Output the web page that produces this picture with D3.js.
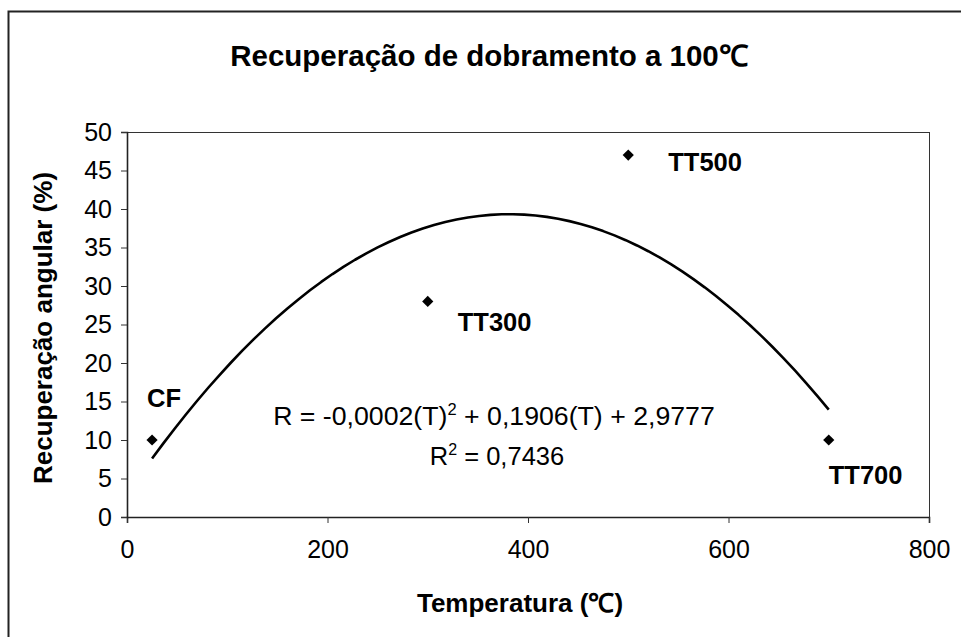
<!DOCTYPE html>
<html>
<head>
<meta charset="utf-8">
<script src="https://cdn.jsdelivr.net/npm/d3@7"></script>
<style>
  html, body { margin: 0; padding: 0; background: #fff; }
  svg { display: block; font-family: "Liberation Sans", Arial, sans-serif; }
</style>
</head>
<body>
<svg id="chart" width="961" height="637"></svg>
<script>
// Samples: treatment label, temperature (°C), angular recovery (%)
const samples = ["CF", "TT300", "TT500", "TT700"];
const temperatures = [25, 300, 500, 700];
const recovery = [10, 28, 47, 10];

const xTicks = [0, 200, 400, 600, 800];
const yTicks = [0, 5, 10, 15, 20, 25, 30, 35, 40, 45, 50];

const titleText = "Recuperação de dobramento a 100\u2103";
const xTitle = "Temperatura (\u2103)";
const yTitle = "Recuperação angular (%)";
const equationText = "R = -0,0002(T)";
const equationRest = " + 0,1906(T) + 2,9777";
const r2Value = "0,7436";

const svg = d3.select("#chart");
const plot = { left: 127, right: 929, top: 132, bottom: 517 };

const x = d3.scaleLinear().domain([0, 800]).range([plot.left, plot.right]);
const y = d3.scaleLinear().domain([0, 50]).range([plot.bottom, plot.top]);

// Outer chart frame
svg.append("rect")
  .attr("x", 8.5).attr("y", 11.5)
  .attr("width", 1200).attr("height", 1200)
  .attr("fill", "none").attr("stroke", "#222").attr("stroke-width", 2);

// Title
svg.append("text")
  .attr("x", 489).attr("y", 66)
  .attr("text-anchor", "middle")
  .attr("font-size", 29.5).attr("font-weight", "bold")
  .text(titleText);

// Plot area border (top and right)
svg.append("rect")
  .attr("x", plot.left + 0.5).attr("y", plot.top + 0.5)
  .attr("width", plot.right - plot.left).attr("height", plot.bottom - plot.top)
  .attr("fill", "none").attr("stroke", "#333").attr("stroke-width", 1);

// Axes
const xAxis = svg.append("g")
  .attr("transform", `translate(0,${plot.bottom})`)
  .call(d3.axisBottom(x).tickValues(xTicks).tickSize(6).tickPadding(17).tickFormat(d3.format("d")));
const yAxis = svg.append("g")
  .attr("transform", `translate(${plot.left},0)`)
  .call(d3.axisLeft(y).tickValues(yTicks).tickSize(6).tickPadding(9).tickFormat(d3.format("d")));

[xAxis, yAxis].forEach(g => {
  g.attr("font-size", 25).attr("font-family", "'Liberation Sans', Arial, sans-serif");
  g.select(".domain").attr("stroke", "#222").attr("stroke-width", 1.6);
  g.selectAll(".tick line").attr("stroke", "#333");
  g.selectAll(".tick text").attr("fill", "#000");
});

// Axis titles
svg.append("text")
  .attr("x", 520).attr("y", 612)
  .attr("text-anchor", "middle")
  .attr("font-size", 26).attr("font-weight", "bold")
  .text(xTitle);
svg.append("text")
  .attr("transform", "translate(52,328) rotate(-90)")
  .attr("text-anchor", "middle")
  .attr("font-size", 26).attr("font-weight", "bold")
  .text(yTitle);

// Second-order least-squares trendline through the samples
function quadFit(xs, ys) {
  const s = k => d3.sum(xs, v => Math.pow(v, k));
  const sy = k => d3.sum(xs, (v, i) => Math.pow(v, k) * ys[i]);
  const A = [[s(0), s(1), s(2)], [s(1), s(2), s(3)], [s(2), s(3), s(4)]];
  const b = [sy(0), sy(1), sy(2)];
  // Gaussian elimination
  for (let i = 0; i < 3; i++) {
    for (let j = i + 1; j < 3; j++) {
      const f = A[j][i] / A[i][i];
      for (let k = i; k < 3; k++) A[j][k] -= f * A[i][k];
      b[j] -= f * b[i];
    }
  }
  const c = [0, 0, 0];
  for (let i = 2; i >= 0; i--) {
    let acc = b[i];
    for (let k = i + 1; k < 3; k++) acc -= A[i][k] * c[k];
    c[i] = acc / A[i][i];
  }
  return c; // [a0, a1, a2]
}
const coef = quadFit(temperatures, recovery);
const tMin = d3.min(temperatures), tMax = d3.max(temperatures);
const trend = d3.range(tMin, tMax + 0.1, (tMax - tMin) / 60)
  .map(t => [t, coef[0] + coef[1] * t + coef[2] * t * t]);

svg.append("path")
  .datum(trend)
  .attr("fill", "none").attr("stroke", "#000").attr("stroke-width", 2.6)
  .attr("stroke-linejoin", "round")
  .attr("d", d3.line().x(d => x(d[0])).y(d => y(d[1])));

// Markers
const points = temperatures.map((t, i) => ({ t, r: recovery[i], name: samples[i] }));
const diamond = d3.symbol().type(d3.symbolDiamond2).size(80);
svg.selectAll("path.pt")
  .data(points)
  .join("path")
  .attr("class", "pt")
  .attr("transform", d => `translate(${x(d.t)},${y(d.r)})`)
  .attr("d", diamond)
  .attr("fill", "#000");

// Point labels
const labelOffsets = { CF: [-5, -33], TT300: [30, 30], TT500: [40, 16], TT700: [0, 44] };
svg.selectAll("text.lbl")
  .data(points)
  .join("text")
  .attr("class", "lbl")
  .attr("x", d => x(d.t) + labelOffsets[d.name][0])
  .attr("y", d => y(d.r) + labelOffsets[d.name][1])
  .attr("font-size", 25.5).attr("font-weight", "bold")
  .text(d => d.name);

// Trendline equation and R²
const eq = svg.append("text")
  .attr("x", 494).attr("y", 425)
  .attr("text-anchor", "middle")
  .attr("font-size", 26.7);
eq.append("tspan").text(equationText);
eq.append("tspan").attr("dy", -10).attr("font-size", 16.5).text("2");
eq.append("tspan").attr("dy", 10).text(equationRest);

const r2 = svg.append("text")
  .attr("x", 497).attr("y", 465)
  .attr("text-anchor", "middle")
  .attr("font-size", 25.5);
r2.append("tspan").text("R");
r2.append("tspan").attr("dy", -10).attr("font-size", 16).text("2");
r2.append("tspan").attr("dy", 10).text(" = " + r2Value);
</script>
</body>
</html>
